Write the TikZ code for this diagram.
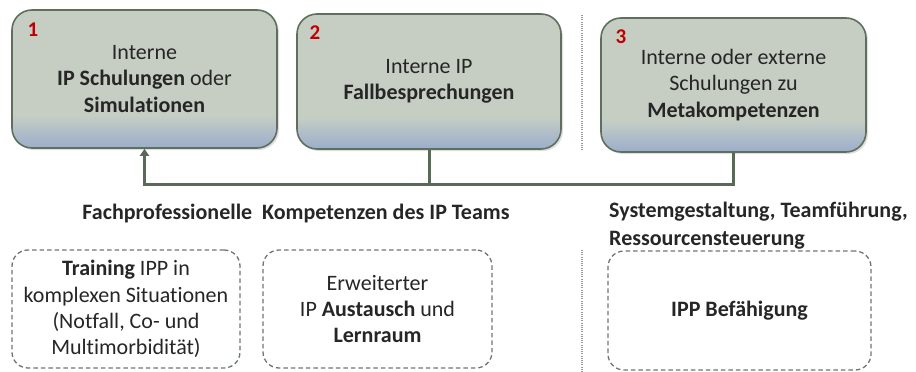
\documentclass[tikz,border=0pt]{standalone}
\usepackage{fontspec}
\setmainfont{Carlito}[Ligatures=NoCommon]
\usetikzlibrary{arrows.meta,shadows}
\definecolor{boxtop}{HTML}{C6CEC4}
\definecolor{boxbot}{HTML}{9BADCB}
\definecolor{boxline}{HTML}{5E6F5E}
\definecolor{connline}{HTML}{5A6A59}
\definecolor{dashline}{HTML}{6C786B}
\definecolor{txt}{HTML}{262626}
\definecolor{numred}{HTML}{C00000}
\pgfdeclareverticalshading{boxshade}{100bp}{color(0bp)=(boxbot); color(25bp)=(boxbot); color(37bp)=(boxtop); color(100bp)=(boxtop)}
\tikzset{
  mainbox/.style={rounded corners=20pt, draw=boxline, line width=1.6pt, shading=boxshade,
    drop shadow={opacity=0.25, shadow xshift=2pt, shadow yshift=-2pt},
    align=center, text=txt, inner sep=0pt, font=\fontsize{22}{26.5}\selectfont},
  dashbox/.style={rounded corners=16pt, draw=dashline, line width=1.3pt, dash pattern=on 4.5pt off 3pt,
    fill=white, align=center, text=txt, inner sep=0pt, font=\fontsize{22}{26.3}\selectfont},
  numlab/.style={text=numred, font=\fontsize{21}{22}\selectfont\bfseries, inner sep=0pt},
  conn/.style={draw=connline, line width=3pt},
  sep/.style={draw=gray!80, line width=2pt, dash pattern=on 1pt off 1.2pt},
  heading/.style={text=txt, font=\fontsize{22}{28}\selectfont\bfseries, inner sep=0pt}
}
\begin{document}
\begin{tikzpicture}[x=1pt,y=-1pt]
\useasboundingbox (0,0) rectangle (916,372);
% top boxes
\node[mainbox, minimum width=265pt, minimum height=138pt] (b1) at (144.5,79) {Interne\\\textbf{IP Schulungen} oder\\\textbf{Simulationen}};
\node[mainbox, minimum width=264pt, minimum height=135pt] (b2) at (429,81.5) {Interne IP\\\textbf{Fallbesprechungen}};
\node[mainbox, minimum width=265pt, minimum height=134pt] (b3) at (733.5,85) {Interne oder externe\\Schulungen zu\\\textbf{Metakompetenzen}};
\node[numlab] (n1) at (33,30) {1};
\node[numlab] (n2) at (315,33) {2};
\node[numlab] (n3) at (621,37) {3};
% connectors
\coordinate (j) at (429,184);
\draw[conn, -{Triangle[width=9pt,length=7pt]}] (b3.south) |- (j) -| (b1.south);
\draw[conn] (b2.south) -- (j);
% separators
\draw[sep] (582,15) -- (582,150);
\draw[sep] (582,250) -- (582,372);
% headings
\node[heading] (h1) at (296,214) {Fachprofessionelle\ \ Kompetenzen des IP Teams};
\node[heading, anchor=west, align=left] (h2) at (609,226) {Systemgestaltung, Teamführung,\\Ressourcensteuerung};
% bottom boxes
\node[dashbox, minimum width=228pt, minimum height=118pt] (d1) at (126,309) {\textbf{Training} IPP in\\komplexen Situationen\\(Notfall, Co- und\\Multimorbidität)};
\node[dashbox, minimum width=229pt, minimum height=118pt] (d2) at (377.5,309) {Erweiterter\\IP \textbf{Austausch} und\\\textbf{Lernraum}};
\node[dashbox, minimum width=263pt, minimum height=119pt] (d3) at (739.5,310.5) {\textbf{IPP Befähigung}};
\end{tikzpicture}
\end{document}
